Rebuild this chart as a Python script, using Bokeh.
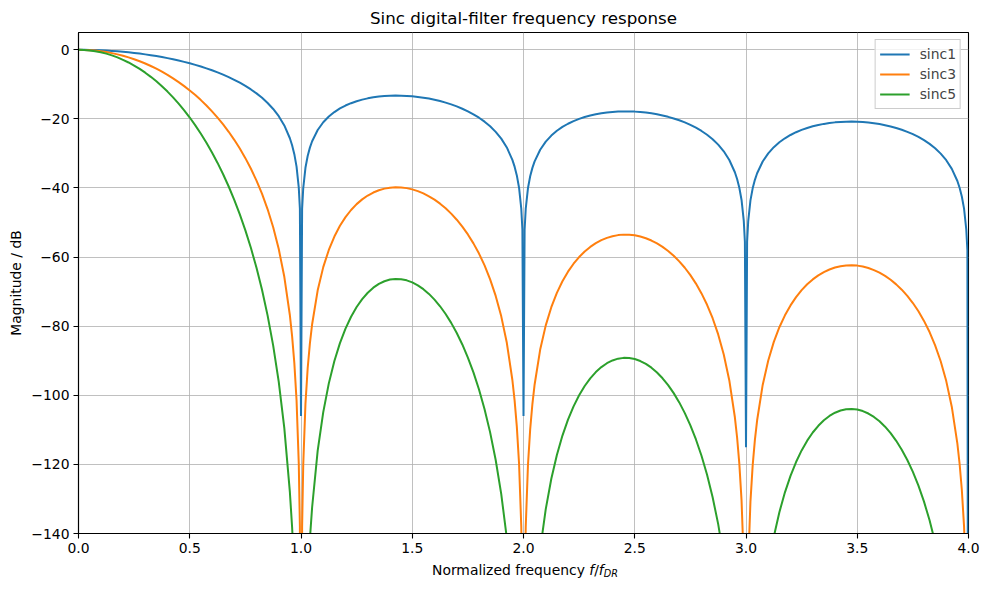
from bokeh.plotting import figure
from bokeh.models import (ColumnDataSource, FixedTicker, CustomJSTickFormatter,
                          Legend, LegendItem, Range1d, Div)
from bokeh.layouts import column
from bokeh.embed import file_html
from bokeh.resources import INLINE

# Normalized frequency samples (f / f_DR)
freq = [0.000, 0.025, 0.050, 0.075, 0.100, 0.125, 0.150, 0.175, 0.200, 0.225, 0.250, 0.275, 0.300, 0.325,
        0.350, 0.375, 0.400, 0.425, 0.450, 0.475, 0.500, 0.525, 0.550, 0.575, 0.600, 0.625, 0.650, 0.675,
        0.700, 0.725, 0.750, 0.775, 0.800, 0.825, 0.850, 0.875, 0.900, 0.925, 0.950, 0.960, 0.970, 0.980,
        0.990, 0.995, 1.000, 1.005, 1.010, 1.020, 1.030, 1.040, 1.050, 1.075, 1.100, 1.125, 1.150, 1.175,
        1.200, 1.225, 1.250, 1.275, 1.300, 1.325, 1.350, 1.375, 1.400, 1.425, 1.450, 1.475, 1.500, 1.525,
        1.550, 1.575, 1.600, 1.625, 1.650, 1.675, 1.700, 1.725, 1.750, 1.775, 1.800, 1.825, 1.850, 1.875,
        1.900, 1.925, 1.950, 1.960, 1.970, 1.980, 1.990, 1.995, 2.000, 2.005, 2.010, 2.020, 2.030, 2.040,
        2.050, 2.075, 2.100, 2.125, 2.150, 2.175, 2.200, 2.225, 2.250, 2.275, 2.300, 2.325, 2.350, 2.375,
        2.400, 2.425, 2.450, 2.475, 2.500, 2.525, 2.550, 2.575, 2.600, 2.625, 2.650, 2.675, 2.700, 2.725,
        2.750, 2.775, 2.800, 2.825, 2.850, 2.875, 2.900, 2.925, 2.950, 2.960, 2.970, 2.980, 2.990, 2.995,
        3.000, 3.005, 3.010, 3.020, 3.030, 3.040, 3.050, 3.075, 3.100, 3.125, 3.150, 3.175, 3.200, 3.225,
        3.250, 3.275, 3.300, 3.325, 3.350, 3.375, 3.400, 3.425, 3.450, 3.475, 3.500, 3.525, 3.550, 3.575,
        3.600, 3.625, 3.650, 3.675, 3.700, 3.725, 3.750, 3.775, 3.800, 3.825, 3.850, 3.875, 3.900, 3.925,
        3.950, 3.960, 3.970, 3.980, 3.990, 3.995, 4.000]

# Magnitude in dB
sinc1 = [0.0, -0.01, -0.04, -0.08, -0.14, -0.22, -0.32, -0.44, -0.58, -0.74, -0.91, -1.11, -1.33, -1.57,
         -1.83, -2.11, -2.42, -2.75, -3.12, -3.50, -3.92, -4.37, -4.86, -5.38, -5.94, -6.55, -7.20, -7.91,
         -8.69, -9.53, -10.45, -11.48, -12.62, -13.91, -15.39, -17.13, -19.23, -21.90, -25.61, -27.63, -30.21, -33.81,
         -39.91, -45.98, -106.0, -46.06, -40.09, -34.16, -30.73, -28.32, -26.48, -23.21, -20.97, -19.31, -18.02, -16.98,
         -16.14, -15.46, -14.89, -14.43, -14.06, -13.77, -13.55, -13.40, -13.30, -13.26, -13.28, -13.35, -13.47, -13.64,
         -13.86, -14.13, -14.46, -14.85, -15.30, -15.81, -16.39, -17.06, -17.81, -18.68, -19.66, -20.81, -22.15, -23.75,
         -25.72, -28.27, -31.86, -33.83, -36.36, -39.92, -45.98, -52.02, -106.0, -52.06, -46.07, -40.09, -36.62, -34.18,
         -32.29, -28.92, -26.59, -24.83, -23.45, -22.33, -21.41, -20.64, -20.00, -19.46, -19.02, -18.66, -18.37, -18.14,
         -17.98, -17.88, -17.83, -17.84, -17.90, -18.02, -18.18, -18.40, -18.68, -19.01, -19.41, -19.87, -20.41, -21.03,
         -21.74, -22.56, -23.50, -24.60, -25.90, -27.46, -29.39, -31.90, -35.45, -37.41, -39.93, -43.47, -49.51, -55.55,
         -115.0, -55.58, -49.57, -43.59, -40.10, -37.64, -35.74, -32.34, -29.97, -28.18, -26.77, -25.62, -24.66, -23.86,
         -23.19, -22.63, -22.15, -21.76, -21.45, -21.20, -21.01, -20.88, -20.81, -20.79, -20.82, -20.91, -21.06, -21.25,
         -21.51, -21.82, -22.19, -22.63, -23.15, -23.75, -24.43, -25.23, -26.16, -27.23, -28.51, -30.05, -31.96, -34.46,
         -37.99, -39.94, -42.45, -45.98, -52.02, -58.05, -300.0]

sinc3 = [0.0, -0.03, -0.11, -0.24, -0.43, -0.67, -0.97, -1.33, -1.74, -2.21, -2.74, -3.33, -3.98, -4.70,
         -5.48, -6.34, -7.26, -8.26, -9.35, -10.51, -11.77, -13.12, -14.57, -16.14, -17.83, -19.65, -21.61, -23.74,
         -26.06, -28.59, -31.36, -34.43, -37.86, -41.73, -46.17, -51.38, -57.68, -65.71, -76.83, -82.88, -90.62, -101.43,
         -119.74, -137.93, -318.0, -138.19, -120.26, -102.47, -92.18, -84.97, -79.44, -69.62, -62.91, -57.93, -54.05, -50.95,
         -48.43, -46.37, -44.67, -43.30, -42.19, -41.32, -40.66, -40.19, -39.91, -39.79, -39.83, -40.04, -40.40, -40.91,
         -41.57, -42.40, -43.38, -44.54, -45.89, -47.42, -49.18, -51.17, -53.44, -56.03, -58.99, -62.42, -66.44, -71.24,
         -77.15, -84.80, -95.57, -101.48, -109.08, -119.75, -137.93, -156.06, -318.0, -156.19, -138.20, -120.28, -109.86, -102.53,
         -96.87, -86.76, -79.76, -74.50, -70.35, -66.99, -64.22, -61.92, -59.99, -58.39, -57.06, -55.97, -55.10, -54.43,
         -53.95, -53.64, -53.50, -53.53, -53.71, -54.05, -54.55, -55.21, -56.03, -57.04, -58.23, -59.62, -61.23, -63.09,
         -65.22, -67.67, -70.51, -73.80, -77.70, -82.38, -88.17, -95.71, -106.36, -112.22, -119.78, -130.41, -148.54, -166.64,
         -345.0, -166.73, -148.72, -130.76, -120.30, -112.92, -107.23, -97.01, -89.91, -84.55, -80.30, -76.85, -73.99, -71.59,
         -69.57, -67.88, -66.46, -65.29, -64.34, -63.59, -63.03, -62.64, -62.42, -62.37, -62.47, -62.74, -63.17, -63.76,
         -64.52, -65.45, -66.57, -67.90, -69.44, -71.24, -73.30, -75.69, -78.47, -81.70, -85.53, -90.15, -95.89, -103.37,
         -113.96, -119.81, -127.34, -137.95, -156.06, -174.15, -900.0]

sinc5 = [0.0, -0.05, -0.18, -0.40, -0.72, -1.12, -1.62, -2.21, -2.90, -3.68, -4.56, -5.55, -6.63, -7.83,
         -9.13, -10.56, -12.10, -13.77, -15.58, -17.52, -19.61, -21.87, -24.29, -26.90, -29.71, -32.75, -36.02, -39.57,
         -43.43, -47.65, -52.27, -57.39, -63.11, -69.55, -76.95, -85.63, -96.14, -109.51, -128.05, -138.14, -151.03, -169.05,
         -199.57, -229.89, -530.0, -230.32, -200.44, -170.79, -153.64, -141.62, -132.40, -116.04, -104.86, -96.55, -90.08, -84.91,
         -80.72, -77.28, -74.46, -72.16, -70.32, -68.86, -67.76, -66.99, -66.51, -66.31, -66.39, -66.73, -67.33, -68.18,
         -69.29, -70.66, -72.31, -74.24, -76.48, -79.04, -81.96, -85.29, -89.07, -93.38, -98.32, -104.03, -110.73, -118.73,
         -128.59, -141.34, -159.28, -169.14, -181.80, -199.59, -229.89, -260.10, -530.0, -260.32, -230.33, -200.46, -183.10, -170.88,
         -161.46, -144.60, -132.94, -124.17, -117.26, -111.65, -107.04, -103.20, -99.99, -97.31, -95.10, -93.28, -91.83, -90.72,
         -89.92, -89.40, -89.17, -89.21, -89.51, -90.08, -90.91, -92.01, -93.39, -95.07, -97.05, -99.37, -102.06, -105.15,
         -108.70, -112.79, -117.51, -123.01, -129.50, -137.30, -146.96, -159.51, -177.26, -187.04, -199.63, -217.35, -247.57, -277.74,
         -575.0, -277.89, -247.86, -217.93, -200.49, -188.20, -178.71, -161.68, -149.85, -140.92, -133.84, -128.08, -123.31, -119.32,
         -115.96, -113.13, -110.77, -108.82, -107.23, -105.98, -105.04, -104.40, -104.03, -103.95, -104.12, -104.57, -105.28, -106.26,
         -107.53, -109.09, -110.96, -113.17, -115.74, -118.73, -122.17, -126.15, -130.78, -136.17, -142.56, -150.26, -159.82, -172.28,
         -189.93, -199.68, -212.23, -229.91, -260.10, -290.25, -1500.0]

series_names = ["sinc1", "sinc3", "sinc5"]
colors = ["#1f77b4", "#ff7f0e", "#2ca02c"]
x_ticks = [0.0, 0.5, 1.0, 1.5, 2.0, 2.5, 3.0, 3.5, 4.0]
y_ticks = [-140, -120, -100, -80, -60, -40, -20, 0]

FONT = "DejaVu Sans"

p = figure(width=989, height=560, output_backend="svg", toolbar_location=None,
           x_range=Range1d(0, 4), y_range=Range1d(-140, 5),
           min_border_left=78, min_border_right=21, min_border_top=32, min_border_bottom=27)
p.background_fill_color = "white"
p.border_fill_color = "white"
p.outline_line_color = "black"
p.outline_line_width = 1.1

p.title.text = "Sinc digital-filter frequency response"
p.title.align = "center"
p.title.text_font = FONT
p.title.text_font_size = "16.7px"
p.title.text_font_style = "normal"
p.title.text_color = "black"

src = ColumnDataSource(dict(f=freq, s1=sinc1, s3=sinc3, s5=sinc5))
renderers = []
for col, name, c in zip(["s1", "s3", "s5"], series_names, colors):
    r = p.line("f", col, source=src, line_color=c, line_width=2.0)
    renderers.append(r)

legend = Legend(items=[LegendItem(label=n, renderers=[r]) for n, r in zip(series_names, renderers)],
                location="top_right")
legend.label_text_font = FONT
legend.label_text_font_size = "13.9px"
legend.border_line_color = "#cccccc"
legend.border_line_alpha = 1.0
legend.background_fill_alpha = 0.8
legend.glyph_width = 30
legend.glyph_height = 20
legend.label_height = 20
legend.label_standoff = 10
legend.spacing = 0
legend.padding = 4
legend.margin = 7
p.add_layout(legend)

p.xaxis.ticker = FixedTicker(ticks=x_ticks)
p.yaxis.ticker = FixedTicker(ticks=y_ticks)
p.xaxis.formatter = CustomJSTickFormatter(code="return tick.toFixed(1);")
p.yaxis.formatter = CustomJSTickFormatter(code="return tick < 0 ? '\u2212' + Math.abs(tick).toFixed(0) : tick.toFixed(0);")

for ax in (p.xaxis, p.yaxis):
    ax.axis_line_color = "black"
    ax.axis_line_width = 1.1
    ax.major_tick_line_color = "black"
    ax.major_tick_line_width = 1.1
    ax.major_tick_out = 5
    ax.major_tick_in = 0
    ax.minor_tick_line_color = None
    ax.major_label_text_font = FONT
    ax.major_label_text_font_size = "13.9px"
    ax.major_label_text_color = "black"
    ax.major_label_standoff = 4
    ax.axis_label_text_font = FONT
    ax.axis_label_text_font_size = "13.9px"
    ax.axis_label_text_font_style = "normal"
    ax.axis_label_text_color = "black"

p.yaxis.axis_label = "Magnitude / dB"
p.yaxis.axis_label_standoff = 4

p.xgrid.grid_line_color = "#b0b0b0"
p.ygrid.grid_line_color = "#b0b0b0"
p.xgrid.grid_line_width = 0.8
p.ygrid.grid_line_width = 0.8

# x-axis label with italic symbols and subscript, as real HTML text
xlabel_html = (
    '<div style="position:relative;width:989px;height:30px;">'
    '<span style="position:absolute;left:432px;top:2px;white-space:nowrap;'
    'font-family:\'DejaVu Sans\';font-size:13.9px;color:black;line-height:normal;">'
    'Normalized frequency <i>f</i>/<i>f</i>'
    '<i style="font-size:9.7px;position:relative;top:2px;">DR</i>'
    '</span></div>'
)
xlabel = Div(text=xlabel_html, width=989, height=30, margin=(0, 0, 0, 0))

layout = column(p, xlabel, spacing=0)

open("out.html", "w").write(file_html(layout, INLINE))
